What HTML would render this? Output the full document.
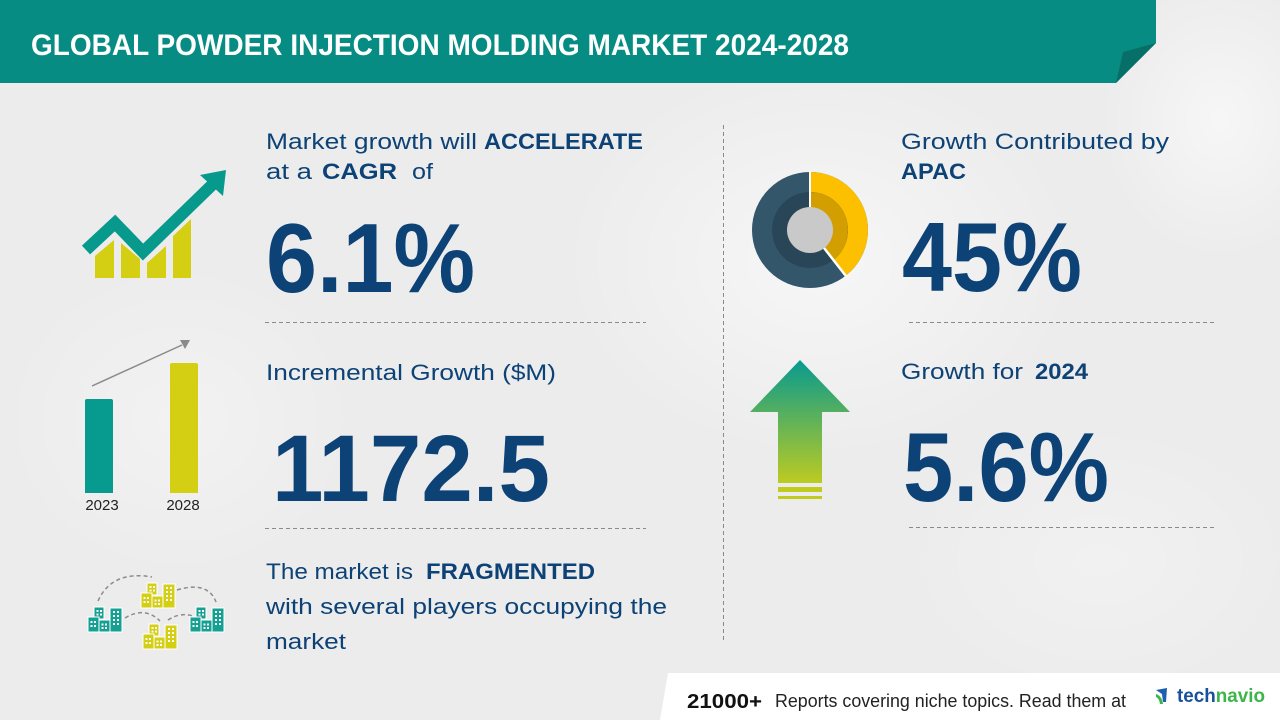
<!DOCTYPE html>
<html>
<head>
<meta charset="utf-8">
<style>
  html,body{margin:0;padding:0;background:#ececec;}
  body{width:1280px;height:720px;overflow:hidden;}
  svg{display:block;}
  .t{font-family:"Liberation Sans","DejaVu Sans",sans-serif;fill:#0d4276;}
</style>
</head>
<body>
<svg width="1280" height="720" viewBox="0 0 1280 720" xmlns="http://www.w3.org/2000/svg">
  <defs>
    <linearGradient id="arr" x1="0" y1="0" x2="0" y2="1">
      <stop offset="0" stop-color="#079a8f"/>
      <stop offset="1" stop-color="#bccb22"/>
    </linearGradient>
    <radialGradient id="glow" cx="0.5" cy="0.5" r="0.5">
      <stop offset="0" stop-color="#ffffff" stop-opacity="0.55"/>
      <stop offset="1" stop-color="#ffffff" stop-opacity="0"/>
    </radialGradient>
    <g id="bld">
      <rect x="6" y="0" width="10" height="12" stroke="#fff" stroke-width="1"/>
      <rect x="0" y="10" width="11" height="15" stroke="#fff" stroke-width="1"/>
      <rect x="11" y="13" width="11" height="12" stroke="#fff" stroke-width="1"/>
      <rect x="22" y="1" width="12" height="24" stroke="#fff" stroke-width="1"/>
      <g fill="#fff">
        <rect x="8.5" y="3" width="2" height="2"/><rect x="12" y="3" width="2" height="2"/>
        <rect x="8.5" y="6.5" width="2" height="2"/><rect x="12" y="6.5" width="2" height="2"/>
        <rect x="2.5" y="14" width="2" height="2"/><rect x="6" y="14" width="2" height="2"/>
        <rect x="2.5" y="18" width="2" height="2"/><rect x="6" y="18" width="2" height="2"/>
        <rect x="13.5" y="16.5" width="2" height="2"/><rect x="17" y="16.5" width="2" height="2"/>
        <rect x="13.5" y="20" width="2" height="2"/><rect x="17" y="20" width="2" height="2"/>
        <rect x="25" y="4" width="2" height="2"/><rect x="29" y="4" width="2" height="2"/>
        <rect x="25" y="8" width="2" height="2"/><rect x="29" y="8" width="2" height="2"/>
        <rect x="25" y="12" width="2" height="2"/><rect x="29" y="12" width="2" height="2"/>
        <rect x="25" y="16" width="2" height="2"/><rect x="29" y="16" width="2" height="2"/>
      </g>
    </g>
  </defs>

  <!-- background -->
  <rect x="0" y="0" width="1280" height="720" fill="#ececec"/>
  <ellipse cx="820" cy="260" rx="260" ry="200" fill="url(#glow)"/>
  <ellipse cx="1220" cy="120" rx="120" ry="140" fill="url(#glow)"/>
  <ellipse cx="180" cy="420" rx="180" ry="160" fill="url(#glow)" opacity="0.6"/>
  <ellipse cx="1100" cy="560" rx="200" ry="140" fill="url(#glow)" opacity="0.5"/>

  <!-- header -->
  <polygon points="0,0 1156,0 1156,43 1116,83 0,83" fill="#078c84"/>
  <polygon points="1123,52 1156,43 1116,83" fill="#066f68"/>
  <text x="31" y="55" font-family="'Liberation Sans','DejaVu Sans',sans-serif" font-weight="bold" font-size="30" fill="#ffffff" textLength="818" lengthAdjust="spacingAndGlyphs">GLOBAL POWDER INJECTION MOLDING MARKET 2024-2028</text>

  <!-- growth icon -->
  <g fill="#d4cf12">
    <polygon points="95,278 95,256 114,240 114,278"/>
    <polygon points="121,278 121,243 140,259 140,278"/>
    <polygon points="147,278 147,263 166,246 166,278"/>
    <polygon points="173,278 173,236 191,219 191,278"/>
  </g>
  <polyline points="86,250 115,223 143,252 212,185" fill="none" stroke="#08998d" stroke-width="12" stroke-linejoin="miter"/>
  <polygon points="200,175 226,170 223,196" fill="#08998d"/>

  <!-- bar chart icon -->
  <line x1="92" y1="386" x2="182" y2="345" stroke="#8a8a8a" stroke-width="1.5"/>
  <polygon points="180,340 190,340 185,349" fill="#8a8a8a"/>
  <path d="M85,401 Q85,399 87,399 L111,399 Q113,399 113,401 L113,493 L85,493 Z" fill="#079a8f"/>
  <path d="M170,365 Q170,363 172,363 L196,363 Q198,363 198,365 L198,493 L170,493 Z" fill="#d4cf12"/>
  <text x="102" y="510" text-anchor="middle" font-family="'Liberation Sans','DejaVu Sans',sans-serif" font-size="15" fill="#222">2023</text>
  <text x="183" y="510" text-anchor="middle" font-family="'Liberation Sans','DejaVu Sans',sans-serif" font-size="15" fill="#222">2028</text>

  <!-- buildings icon -->
  <g fill="none" stroke="#8c8c8c" stroke-width="1.5" stroke-dasharray="4 3">
    <path d="M98,601 Q112,570 152,577"/>
    <path d="M177,590 Q210,580 217,605"/>
    <path d="M125,618 Q145,606 160,621"/>
    <path d="M168,620 Q180,612 193,616"/>
  </g>
  <use href="#bld" x="88" y="607" fill="#14a092"/>
  <use href="#bld" x="141" y="583" fill="#d4cf12"/>
  <use href="#bld" x="190" y="607" fill="#14a092"/>
  <use href="#bld" x="143" y="624" fill="#d4cf12"/>

  <!-- left column text -->
  <text class="t" x="266" y="149" font-size="22" textLength="211" lengthAdjust="spacingAndGlyphs">Market growth will</text>
  <text class="t" x="484" y="149" font-size="22" font-weight="bold" textLength="159" lengthAdjust="spacingAndGlyphs">ACCELERATE</text>
  <text class="t" x="266" y="179" font-size="22" textLength="46" lengthAdjust="spacingAndGlyphs">at a</text>
  <text class="t" x="322" y="179" font-size="22" font-weight="bold" textLength="75" lengthAdjust="spacingAndGlyphs">CAGR</text>
  <text class="t" x="412" y="179" font-size="22" textLength="21" lengthAdjust="spacingAndGlyphs">of</text>
  <text class="t" x="266" y="292" font-size="98" font-weight="bold" textLength="209" lengthAdjust="spacingAndGlyphs">6.1%</text>
  <line x1="265" y1="322.5" x2="646" y2="322.5" stroke="#8a8a8a" stroke-width="1" stroke-dasharray="4 3"/>

  <text class="t" x="266" y="380" font-size="22" textLength="290" lengthAdjust="spacingAndGlyphs">Incremental Growth ($M)</text>
  <text class="t" x="272" y="501" font-size="95" font-weight="bold" textLength="278" lengthAdjust="spacingAndGlyphs">1172.5</text>
  <line x1="265" y1="528.5" x2="646" y2="528.5" stroke="#8a8a8a" stroke-width="1" stroke-dasharray="4 3"/>

  <text class="t" x="266" y="579" font-size="22" textLength="147" lengthAdjust="spacingAndGlyphs">The market is</text>
  <text class="t" x="426" y="579" font-size="22" font-weight="bold" textLength="169" lengthAdjust="spacingAndGlyphs">FRAGMENTED</text>
  <text class="t" x="266" y="614" font-size="22" textLength="401" lengthAdjust="spacingAndGlyphs">with several players occupying the</text>
  <text class="t" x="266" y="649" font-size="22" textLength="80" lengthAdjust="spacingAndGlyphs">market</text>

  <!-- vertical divider -->
  <line x1="723.5" y1="125" x2="723.5" y2="640" stroke="#8a8a8a" stroke-width="1" stroke-dasharray="4 3"/>

  <!-- donut -->
  <circle cx="810" cy="230" r="58" fill="#33566b"/>
  <path d="M810,230 L810,172 A58,58 0 0 1 845.7,275.7 Z" fill="#fdc000"/>
  <circle cx="810" cy="230" r="38" fill="#294659"/>
  <path d="M810,230 L810,192 A38,38 0 0 1 833.4,259.9 Z" fill="#d39f00"/>
  <line x1="810" y1="230" x2="810" y2="171" stroke="#fff" stroke-width="2"/>
  <line x1="810" y1="230" x2="846.3" y2="276.5" stroke="#fff" stroke-width="2.5"/>
  <circle cx="810" cy="230" r="23" fill="#c9c9c9"/>

  <!-- up arrow -->
  <polygon points="800,360 850,412 822,412 822,483 778,483 778,412 750,412" fill="url(#arr)"/>
  <rect x="778" y="487" width="44" height="5" fill="#c0cb1e"/>
  <rect x="778" y="496" width="44" height="3" fill="#c0cb1e"/>

  <!-- right column text -->
  <text class="t" x="901" y="149" font-size="22" textLength="268" lengthAdjust="spacingAndGlyphs">Growth Contributed by</text>
  <text class="t" x="901" y="179" font-size="22" font-weight="bold" textLength="65" lengthAdjust="spacingAndGlyphs">APAC</text>
  <text class="t" x="902" y="291" font-size="98" font-weight="bold" textLength="180" lengthAdjust="spacingAndGlyphs">45%</text>
  <line x1="909" y1="322.5" x2="1214" y2="322.5" stroke="#8a8a8a" stroke-width="1" stroke-dasharray="4 3"/>

  <text class="t" x="901" y="379" font-size="22" textLength="122" lengthAdjust="spacingAndGlyphs">Growth for</text>
  <text class="t" x="1035" y="379" font-size="22" font-weight="bold" textLength="53" lengthAdjust="spacingAndGlyphs">2024</text>
  <text class="t" x="903" y="501" font-size="98" font-weight="bold" textLength="206" lengthAdjust="spacingAndGlyphs">5.6%</text>
  <line x1="909" y1="527.5" x2="1214" y2="527.5" stroke="#8a8a8a" stroke-width="1" stroke-dasharray="4 3"/>

  <!-- footer -->
  <polygon points="668,673 1280,673 1280,720 660,720" fill="#ffffff"/>
  <text x="687" y="708" font-family="'Liberation Sans','DejaVu Sans',sans-serif" font-weight="bold" font-size="20" fill="#111" textLength="75" lengthAdjust="spacingAndGlyphs">21000+</text>
  <text x="775" y="707" font-family="'Liberation Sans','DejaVu Sans',sans-serif" font-size="18" fill="#222" textLength="351" lengthAdjust="spacingAndGlyphs">Reports covering niche topics. Read them at</text>
  <polygon points="1156,690 1167,688 1166,702 1163,702 1162,694" fill="#1f5fb0"/>
  <path d="M1156,694 Q1162,696 1163,704 L1160,704 Q1159,698 1156,697 Z" fill="#3cb54a"/>
  <text x="1177" y="702" font-family="'Liberation Sans','DejaVu Sans',sans-serif" font-weight="bold" font-size="19" textLength="88" lengthAdjust="spacingAndGlyphs"><tspan fill="#1a4f9c">tech</tspan><tspan fill="#3cb54a">navio</tspan></text>
</svg>
</body>
</html>
